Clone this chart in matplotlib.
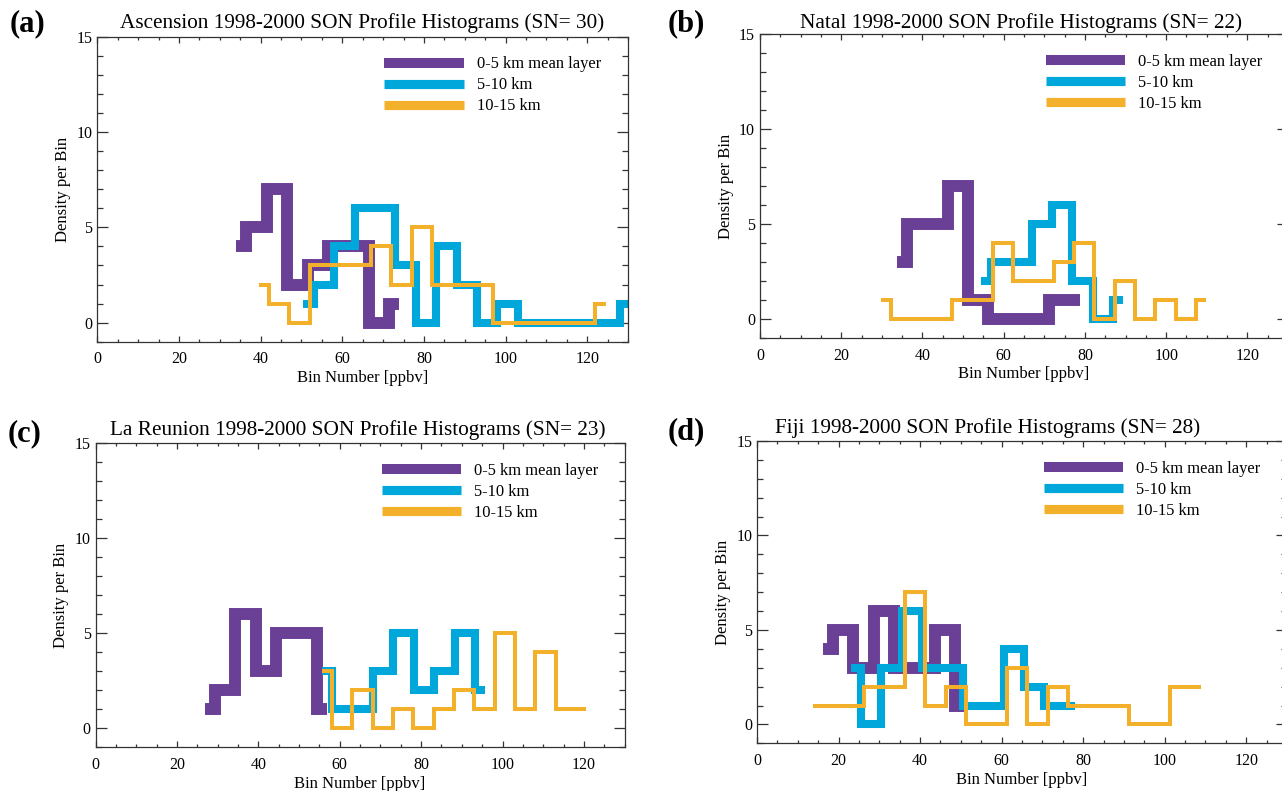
import numpy as np
import matplotlib
matplotlib.use("Agg")
import matplotlib.pyplot as plt
from matplotlib.lines import Line2D
from matplotlib.ticker import MultipleLocator

plt.rcParams['font.family'] = ['Liberation Serif', 'DejaVu Serif']

W, H = 1282, 791

# colours of the three layers
PURPLE = "#6A4097"
CYAN = "#00A7DA"
ORANGE = "#F3B02A"
labels = ["0-5 km mean layer", "5-10 km", "10-15 km"]

# (a) Ascension
a_x0 = [34, 39, 44, 49, 54, 59, 64, 69, 74]
a_y0 = [4, 5, 7, 2, 3, 4, 4, 0, 1]
a_x1 = [50.5, 55.5, 60.5, 65.5, 70.5, 75.5, 80.5, 85.5, 90.5, 95.5, 100.5,
        105.5, 110.5, 115.5, 120.5, 125.5, 130.5]
a_y1 = [1, 2, 4, 6, 6, 3, 0, 4, 2, 0, 1, 0, 0, 0, 0, 0, 1]
a_x2 = [39.5, 44.5, 49.5, 54.5, 59.5, 64.5, 69.5, 74.5, 79.5, 84.5, 89.5,
        94.5, 99.5, 104.5, 109.5, 114.5, 119.5, 124.5]
a_y2 = [2, 1, 0, 3, 3, 3, 4, 2, 5, 2, 2, 2, 0, 0, 0, 0, 0, 1]

# (b) Natal
b_x0 = [33.7, 38.7, 43.7, 48.7, 53.7, 58.7, 63.7, 68.7, 73.7, 78.7]
b_y0 = [3, 5, 5, 7, 1, 0, 0, 0, 1, 1]
b_x1 = [54.4, 59.4, 64.4, 69.4, 74.4, 79.4, 84.4, 89.4]
b_y1 = [2, 3, 3, 5, 6, 2, 0, 1]
b_x2 = [29.8, 34.8, 39.8, 44.8, 49.8, 54.8, 59.8, 64.8, 69.8, 74.8, 79.8,
        84.8, 89.8, 94.8, 99.8, 104.8, 109.8]
b_y2 = [1, 0, 0, 0, 1, 1, 4, 2, 2, 3, 4, 0, 2, 0, 1, 0, 1]

# (c) La Reunion
c_x0 = [26.8, 31.8, 36.8, 41.8, 46.8, 51.8, 56.8]
c_y0 = [1, 2, 6, 3, 5, 5, 1]
c_x1 = [55.7, 60.7, 65.7, 70.7, 75.7, 80.7, 85.7, 90.7, 95.7]
c_y1 = [3, 1, 1, 3, 5, 2, 3, 5, 2]
c_x2 = [55.6, 60.6, 65.6, 70.6, 75.6, 80.6, 85.6, 90.6, 95.6, 100.6, 105.6,
        110.6, 115.6, 120.6]
c_y2 = [3, 0, 2, 0, 1, 0, 1, 2, 1, 5, 1, 4, 1, 1]

# (d) Fiji
d_x0 = [16.1, 21.1, 26.1, 31.1, 36.1, 41.1, 46.1, 51.1]
d_y0 = [4, 5, 3, 6, 3, 3, 5, 1]
d_x1 = [23, 28, 33, 38, 43, 48, 53, 58, 63, 68, 73, 78]
d_y1 = [3, 0, 3, 6, 3, 3, 1, 1, 4, 2, 1, 1]
d_x2 = [13.8, 18.8, 23.8, 28.8, 33.8, 38.8, 43.8, 48.8, 53.8, 58.8, 63.8,
        68.8, 73.8, 78.8, 83.8, 88.8, 93.8, 98.8, 103.8, 108.8]
d_y2 = [1, 1, 1, 2, 2, 7, 1, 2, 0, 0, 3, 0, 2, 1, 1, 1, 0, 0, 2, 2]

# letter, title, axes rect, (letter x, y px), (title x, baseline px)
panels = [
    ("(a)", "Ascension 1998-2000 SON Profile Histograms (SN= 30)",
     [0.0759, 0.568, 0.4140, 0.3857], (10, 24), (120, 28),
     (a_x0, a_y0), (a_x1, a_y1), (a_x2, a_y2)),
    ("(b)", "Natal 1998-2000 SON Profile Histograms (SN= 22)",
     [0.5928, 0.5727, 0.4119, 0.3843], (668, 24), (800, 28),
     (b_x0, b_y0), (b_x1, b_y1), (b_x2, b_y2)),
    ("(c)", "La Reunion 1998-2000 SON Profile Histograms (SN= 23)",
     [0.0746, 0.0556, 0.4126, 0.3840], (8, 434), (110, 435),
     (c_x0, c_y0), (c_x1, c_y1), (c_x2, c_y2)),
    ("(d)", "Fiji 1998-2000 SON Profile Histograms (SN= 28)",
     [0.5905, 0.0603, 0.4134, 0.3822], (668, 432), (775, 433),
     (d_x0, d_y0), (d_x1, d_y1), (d_x2, d_y2)),
]

fig = plt.figure(figsize=(12.82, 7.91), dpi=100)

for letter, title, rect, lpos, tpos, s0, s1, s2 in panels:
    ax = fig.add_axes(rect)
    kw = dict(drawstyle="steps-mid", solid_joinstyle="miter",
              solid_capstyle="butt")
    ax.plot(s0[0], s0[1], color=PURPLE, lw=8.6, **kw)
    ax.plot(s1[0], s1[1], color=CYAN, lw=5.8, **kw)
    ax.plot(s2[0], s2[1], color=ORANGE, lw=2.9, **kw)

    ax.set_xlim(0, 130)
    ax.set_ylim(-1, 15)
    ax.xaxis.set_major_locator(MultipleLocator(20))
    ax.xaxis.set_minor_locator(MultipleLocator(5))
    ax.yaxis.set_major_locator(MultipleLocator(5))
    ax.yaxis.set_minor_locator(MultipleLocator(1))
    ax.tick_params(axis="both", which="both", direction="in",
                   top=True, right=True, colors="#333333",
                   labelcolor="black", labelsize=11.5, width=0.9)
    ax.tick_params(axis="y", which="major", length=8, pad=3.5)
    ax.tick_params(axis="y", which="minor", length=4.5)
    ax.tick_params(axis="x", which="major", length=4.5, pad=7)
    ax.tick_params(axis="x", which="minor", length=2.5)
    for sp in ax.spines.values():
        sp.set_color("#333333")
        sp.set_linewidth(0.9)

    ax.set_xlabel("Bin Number [ppbv]", fontsize=12, labelpad=2)
    ax.set_ylabel("Density per Bin", fontsize=12, labelpad=4)

    fig.text(tpos[0] / W, 1 - tpos[1] / H, title, fontsize=15.3,
             ha="left", va="baseline")
    fig.text(lpos[0] / W, 1 - lpos[1] / H, letter, fontsize=22,
             fontweight="bold", ha="left", va="center")

    handles = [Line2D([], [], color=c, lw=w, solid_capstyle="butt")
               for c, w in [(PURPLE, 7.2), (CYAN, 6.6), (ORANGE, 6.6)]]
    ax.legend(handles, labels, loc="upper left", bbox_to_anchor=(0.541, 0.935),
              frameon=False, fontsize=11.9, handlelength=4.8,
              handletextpad=0.8, labelspacing=0.3, borderpad=0,
              borderaxespad=0)

fig.savefig("out.png", dpi=100)
